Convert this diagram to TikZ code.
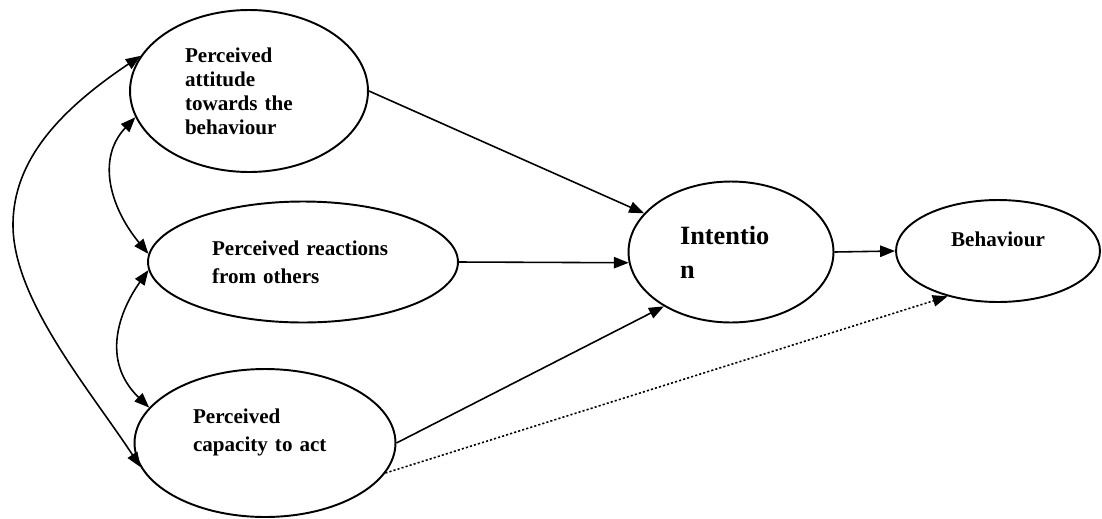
\documentclass[tikz,border=0pt]{standalone}
\usepackage{fontspec}
\setmainfont{Liberation Serif}
\usetikzlibrary{shapes,arrows.meta}

\begin{document}
\begin{tikzpicture}[x=0.02cm,y=-0.02cm,
     factor/.style={draw,ellipse,line width=1.1pt,inner sep=0pt,align=left,
                    font=\bfseries\fontsize{12}{15.9}\selectfont},
     link/.style={-{Triangle[length=8.5pt,width=6.5pt]},line width=0.9pt},
     both/.style={{Triangle[length=8.5pt,width=6.5pt]}-{Triangle[length=8.5pt,width=6.5pt]},
                  line width=0.9pt}
     ]
   \useasboundingbox (0,0) rectangle (1102,518);

   % the five ellipses, placed at pixel positions of the figure
   \node[factor,minimum width=4.76cm,minimum height=3.24cm,text width=2.56cm,
         font=\bfseries\fontsize{12}{13.7}\selectfont] (att) at (249,91)
        {Perceived\\attitude\\towards the\\behaviour};
   \node[factor,minimum width=6.2cm,minimum height=2.42cm,text width=3.64cm] (rea) at (303,262)
        {Perceived reactions\\from others};
   \node[factor,minimum width=5.22cm,minimum height=2.96cm,text width=2.88cm,
         text depth=30pt] (cap) at (265,443)
        {Perceived\\capacity to act};
   \node[factor,minimum width=4.1cm,minimum height=2.82cm,text width=2.04cm,
         font=\bfseries\fontsize{15}{19.3}\selectfont] (int) at (731,252)
        {Intentio\\n};
   \node[factor,minimum width=4.08cm,minimum height=2.04cm,align=center,
         text depth=13.6pt] (beh) at (998,251) {Behaviour};

   % straight paths into intention and behaviour
   \draw[link] (att.east) -- (int.156);
   \draw[link] (rea.east) -- (int.186);
   \draw[link] (cap.east) -- (int.219);
   \draw[link] (int.east) -- (beh.west);
   \draw[link,dash pattern=on 1.2pt off 1.2pt] (cap.346) -- (beh.222);

   % correlations on the left
   \draw[both] (att.162) .. controls (60,110) and (13,160) .. (13,225)
               .. controls (13,300) and (90,390) .. (cap.191);
   \draw[both] (att.193) .. controls (95,160) and (112,210) .. (rea.177);
   \draw[both] (rea.183) .. controls (120,310) and (100,360) .. (cap.163);
\end{tikzpicture}
\end{document}
